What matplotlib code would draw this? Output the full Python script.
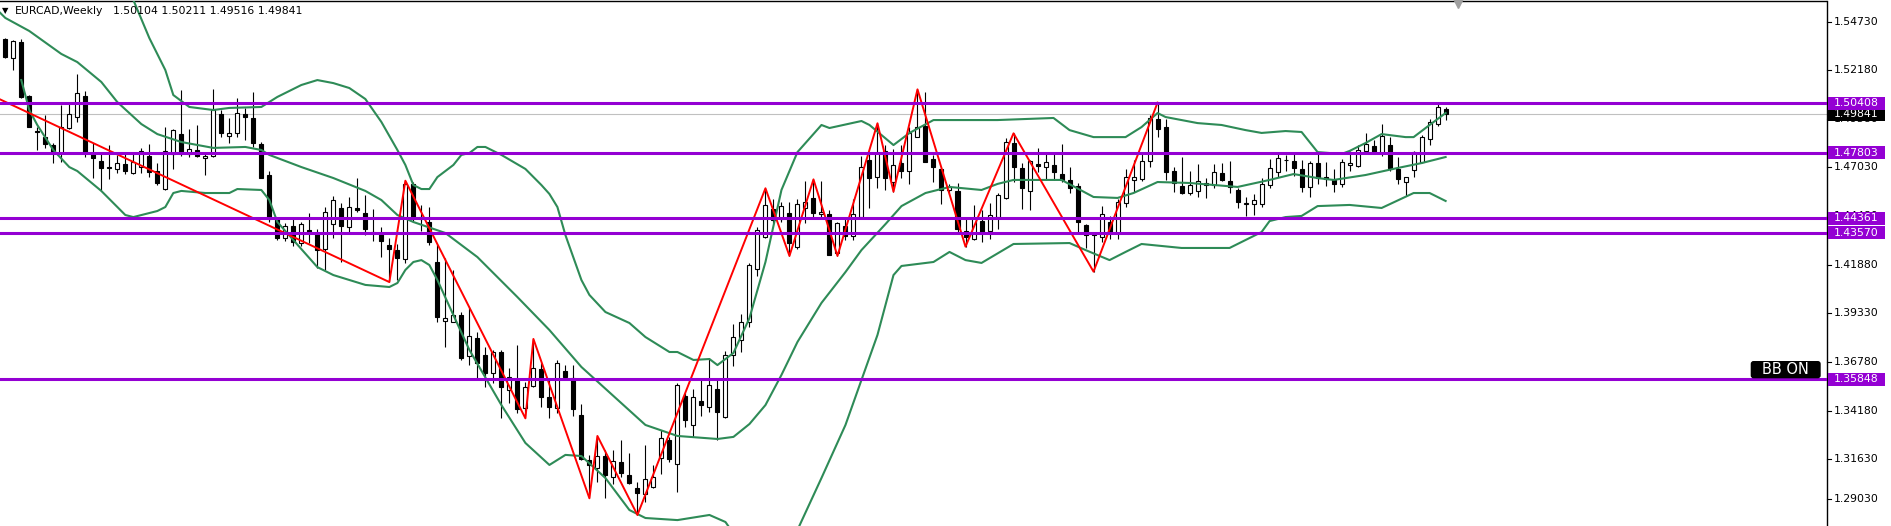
import matplotlib
matplotlib.use("Agg")
import matplotlib.pyplot as plt
import matplotlib.transforms as mtransforms
from matplotlib.patches import Rectangle, FancyBboxPatch
import numpy as np

# weekly EURCAD candles, oldest first
opens = [
    1.5379, 1.5279, 1.5366, 1.5080, 1.4895, 1.4865, 1.4821, 1.4778, 1.4909, 1.4971,
    1.5082, 1.4778, 1.4737, 1.4704, 1.4695, 1.4720, 1.4672, 1.4707, 1.4763, 1.4684,
    1.4588, 1.4772, 1.4879, 1.4774, 1.4795, 1.4754, 1.4763, 1.4985, 1.4870, 1.4883,
    1.4983, 1.4962, 1.4827, 1.4663, 1.4431, 1.4329, 1.4394, 1.4303, 1.4373, 1.4352,
    1.4271, 1.4403, 1.4487, 1.4387, 1.4491, 1.4461, 1.4364, 1.4352, 1.4294, 1.4267,
    1.4218, 1.4616, 1.4440, 1.4417, 1.4202, 1.3894, 1.3889, 1.3924, 1.3708, 1.3801,
    1.3713, 1.3617, 1.3731, 1.3529, 1.3585, 1.3432, 1.3550, 1.3639, 1.3490, 1.3432,
    1.3629, 1.3590, 1.3397, 1.3159, 1.3115, 1.3180, 1.3071, 1.3147, 1.3080, 1.3010,
    1.2980, 1.3015, 1.3168, 1.3265, 1.3138, 1.3497, 1.3344, 1.3472, 1.3440, 1.3532,
    1.3388, 1.3713, 1.3792, 1.3886, 1.4165, 1.4337, 1.4482, 1.4429, 1.4461, 1.4285,
    1.4487, 1.4540, 1.4456, 1.4456, 1.4250, 1.4394, 1.4343, 1.4443, 1.4742, 1.4654,
    1.4791, 1.4624, 1.4725, 1.4683, 1.4865, 1.4922, 1.4747, 1.4693, 1.4584, 1.4579,
    1.4367, 1.4324, 1.4420, 1.4369, 1.4440, 1.4540, 1.4830, 1.4698, 1.4579, 1.4720,
    1.4704, 1.4714, 1.4667, 1.4637, 1.4605, 1.4399, 1.4350, 1.4334, 1.4417, 1.4355,
    1.4514, 1.4637, 1.4640, 1.4737, 1.4957, 1.4915, 1.4684, 1.4605, 1.4567, 1.4580,
    1.4619, 1.4610, 1.4672, 1.4631, 1.4584, 1.4512, 1.4510, 1.4508, 1.4610, 1.4680,
    1.4741, 1.4737, 1.4693, 1.4598, 1.4725, 1.4651, 1.4637, 1.4616, 1.4714, 1.4712,
    1.4791, 1.4818, 1.4781, 1.4821, 1.4693, 1.4624, 1.4689, 1.4733, 1.4851, 1.4931,
    1.50104,
]
highs = [
    1.5384, 1.5375, 1.5379, 1.5085, 1.4918, 1.4980, 1.4832, 1.5032, 1.5045, 1.5196,
    1.5108, 1.4832, 1.4786, 1.4821, 1.4769, 1.4774, 1.4786, 1.4804, 1.4825, 1.4725,
    1.4918, 1.4906, 1.5112, 1.4904, 1.4927, 1.4786, 1.5117, 1.5006, 1.4962, 1.5068,
    1.5015, 1.5099, 1.4839, 1.4684, 1.4443, 1.4411, 1.4443, 1.4415, 1.4464, 1.4378,
    1.4493, 1.4554, 1.4517, 1.4545, 1.4649, 1.4558, 1.4482, 1.4387, 1.4332, 1.4297,
    1.4633, 1.4628, 1.4505, 1.4496, 1.4297, 1.4223, 1.4162, 1.3942, 1.3968, 1.3836,
    1.3757, 1.3740, 1.3740, 1.3643, 1.3766, 1.3572, 1.3798, 1.3669, 1.3581, 1.3687,
    1.3660, 1.3660, 1.3453, 1.3186, 1.3286, 1.3212, 1.3212, 1.3265, 1.3198, 1.3041,
    1.3238, 1.3133, 1.3317, 1.3282, 1.3564, 1.3511, 1.3532, 1.3581, 1.3696, 1.3581,
    1.3736, 1.3877, 1.3930, 1.4200, 1.4390, 1.4593, 1.4535, 1.4519, 1.4519, 1.4536,
    1.4631, 1.4640, 1.4631, 1.4478, 1.4417, 1.4438, 1.4535, 1.4763, 1.4786, 1.4936,
    1.4821, 1.4799, 1.4821, 1.4918, 1.5115, 1.5103, 1.4769, 1.4707, 1.4616, 1.4619,
    1.4429, 1.4505, 1.4478, 1.4517, 1.4570, 1.4857, 1.4883, 1.4725, 1.4742, 1.4804,
    1.4774, 1.4786, 1.4827, 1.4704, 1.4622, 1.4405, 1.4355, 1.4499, 1.4447, 1.4535,
    1.4693, 1.4742, 1.4786, 1.4980, 1.5045, 1.4957, 1.4707, 1.4760, 1.4686, 1.4721,
    1.4646, 1.4721, 1.4728, 1.4737, 1.4593, 1.4545, 1.4563, 1.4646, 1.4746, 1.4786,
    1.4769, 1.4774, 1.4742, 1.4739, 1.4774, 1.4733, 1.4693, 1.4746, 1.4791, 1.4821,
    1.4883, 1.4848, 1.4932, 1.4862, 1.4756, 1.4654, 1.4791, 1.4874, 1.4957, 1.5038,
    1.50211,
]
lows = [
    1.5283, 1.5217, 1.5069, 1.4916, 1.4795, 1.4804, 1.4726, 1.4733, 1.4906, 1.4944,
    1.4758, 1.4646, 1.4580, 1.4640, 1.4672, 1.4667, 1.4668, 1.4675, 1.4654, 1.4610,
    1.4584, 1.4693, 1.4765, 1.4760, 1.4756, 1.4663, 1.4758, 1.4864, 1.4830, 1.4865,
    1.4848, 1.4812, 1.4646, 1.4417, 1.4320, 1.4316, 1.4290, 1.4288, 1.4303, 1.4171,
    1.4162, 1.4332, 1.4206, 1.4350, 1.4466, 1.4346, 1.4315, 1.4232, 1.4098, 1.4109,
    1.4200, 1.4422, 1.4369, 1.4294, 1.3889, 1.3754, 1.3887, 1.3687, 1.3660, 1.3581,
    1.3546, 1.3564, 1.3379, 1.3458, 1.3406, 1.3379, 1.3544, 1.3437, 1.3379, 1.3406,
    1.3581, 1.3393, 1.3159, 1.2957, 1.3045, 1.2957, 1.3031, 1.3071, 1.3034, 1.2869,
    1.2939, 1.3010, 1.3085, 1.3150, 1.2989, 1.3335, 1.3282, 1.3391, 1.3414, 1.3265,
    1.3382, 1.3655, 1.3731, 1.3863, 1.4130, 1.4329, 1.4408, 1.4417, 1.4236, 1.4271,
    1.4408, 1.4443, 1.4429, 1.4239, 1.4236, 1.4320, 1.4320, 1.4438, 1.4487, 1.4596,
    1.4584, 1.4575, 1.4646, 1.4616, 1.4862, 1.4732, 1.4628, 1.4508, 1.4561, 1.4364,
    1.4285, 1.4320, 1.4311, 1.4324, 1.4376, 1.4536, 1.4628, 1.4482, 1.4478, 1.4680,
    1.4637, 1.4637, 1.4628, 1.4567, 1.4359, 1.4276, 1.4153, 1.4311, 1.4324, 1.4324,
    1.4496, 1.4575, 1.4633, 1.4707, 1.4865, 1.4637, 1.4575, 1.4563, 1.4558, 1.4549,
    1.4543, 1.4593, 1.4631, 1.4570, 1.4487, 1.4447, 1.4452, 1.4496, 1.4593, 1.4654,
    1.4686, 1.4658, 1.4575, 1.4545, 1.4616, 1.4605, 1.4575, 1.4601, 1.4686, 1.4704,
    1.4781, 1.4774, 1.4763, 1.4686, 1.4614, 1.4552, 1.4654, 1.4725, 1.4821, 1.4923,
    1.49516,
]
closes = [
    1.5287, 1.5372, 1.5073, 1.4918, 1.4890, 1.4827, 1.4778, 1.4915, 1.4983, 1.5094,
    1.4778, 1.4751, 1.4702, 1.4700, 1.4725, 1.4684, 1.4730, 1.4790, 1.4680, 1.4619,
    1.4790, 1.4900, 1.4786, 1.4800, 1.4765, 1.4765, 1.5006, 1.4883, 1.4883, 1.4989,
    1.4971, 1.4834, 1.4649, 1.4431, 1.4332, 1.4396, 1.4311, 1.4405, 1.4359, 1.4267,
    1.4468, 1.4531, 1.4396, 1.4493, 1.4478, 1.4378, 1.4355, 1.4316, 1.4271, 1.4227,
    1.4614, 1.4443, 1.4431, 1.4311, 1.3915, 1.3907, 1.3924, 1.3699, 1.3815, 1.3669,
    1.3620, 1.3727, 1.3546, 1.3599, 1.3427, 1.3543, 1.3643, 1.3490, 1.3440, 1.3669,
    1.3599, 1.3427, 1.3163, 1.3133, 1.3180, 1.3080, 1.3155, 1.3089, 1.3036, 1.2983,
    1.3057, 1.3071, 1.3274, 1.3163, 1.3555, 1.3370, 1.3490, 1.3449, 1.3555, 1.3414,
    1.3713, 1.3810, 1.3889, 1.4188, 1.4373, 1.4505, 1.4426, 1.4499, 1.4306, 1.4508,
    1.4522, 1.4461, 1.4466, 1.4241, 1.4408, 1.4343, 1.4456, 1.4707, 1.4646, 1.4781,
    1.4649, 1.4716, 1.4686, 1.4883, 1.4918, 1.4733, 1.4707, 1.4584, 1.4601, 1.4376,
    1.4334, 1.4434, 1.4355, 1.4452, 1.4558, 1.4839, 1.4707, 1.4593, 1.4737, 1.4712,
    1.4730, 1.4680, 1.4637, 1.4593, 1.4417, 1.4346, 1.4345, 1.4456, 1.4355, 1.4522,
    1.4654, 1.4654, 1.4738, 1.4965, 1.4904, 1.4680, 1.4622, 1.4570, 1.4609, 1.4630,
    1.4610, 1.4677, 1.4637, 1.4598, 1.4522, 1.4514, 1.4531, 1.4614, 1.4698, 1.4751,
    1.4743, 1.4702, 1.4601, 1.4725, 1.4649, 1.4642, 1.4614, 1.4730, 1.4725, 1.4795,
    1.4825, 1.4781, 1.4869, 1.4702, 1.4640, 1.4651, 1.4786, 1.4865, 1.4944, 1.5020,
    1.49841,
]

# zigzag turning points (bar index, price)
zz_idx = [-1, 48, 50, 65, 66, 73, 74, 79, 95, 98, 101, 104, 109, 111, 114, 120, 126, 136, 144]
zz_price = [1.5069, 1.4098, 1.4633, 1.3379, 1.3798, 1.2957, 1.3286, 1.2869, 1.4593, 1.4236,
            1.4640, 1.4236, 1.4936, 1.4575, 1.5115, 1.4285, 1.4883, 1.4153, 1.5045]

# bollinger bands (bar index, price)
bb_upper_idx = [14, 16, 18, 20, 21, 23, 26, 28, 32, 34, 37, 39, 41, 43, 45, 47, 49, 50, 51, 52,
                53, 54, 56, 57, 58, 59, 60, 61, 62, 65, 67, 68, 69, 70, 72, 73, 75, 78, 80, 83,
                84, 86, 88, 89, 91, 93, 95, 97, 99, 102, 103, 107, 108, 111, 113, 116, 124, 131, 133, 136,
                140, 142, 144, 145, 149, 152, 155, 157, 160, 162, 164, 167, 168, 170, 172, 175, 176, 178, 180]
bb_upper = [1.5718, 1.5587, 1.5386, 1.5217, 1.5085, 1.5022, 1.5006, 1.5017, 1.5022, 1.5075,
            1.5138, 1.5164, 1.5148, 1.5122, 1.5064, 1.4943, 1.4795, 1.4716, 1.4610, 1.4589,
            1.4589, 1.4652, 1.4716, 1.4769, 1.4779, 1.4811, 1.4811, 1.4790, 1.4769, 1.4695,
            1.4610, 1.4563, 1.4494, 1.4346, 1.4109, 1.4030, 1.3940, 1.3882, 1.3808, 1.3729,
            1.3729, 1.3687, 1.3692, 1.3660, 1.3724, 1.3908, 1.4204, 1.4584, 1.4784, 1.4927,
            1.4911, 1.4948, 1.4927, 1.4821, 1.4885, 1.4953, 1.4953, 1.4964, 1.4900, 1.4863,
            1.4863, 1.4916, 1.4990, 1.4969, 1.4937, 1.4927, 1.4900, 1.4885, 1.4895, 1.4890,
            1.4784, 1.4774, 1.4790, 1.4832, 1.4879, 1.4863, 1.4863, 1.4927, 1.4990]
bb_mid_idx = [-1, 0, 3, 7, 9, 12, 14, 17, 19, 22, 26, 30, 32, 33, 37, 41, 45, 47, 49, 51,
              55, 59, 64, 68, 72, 76, 80, 84, 89, 91, 93, 95, 97, 99, 102, 105, 107, 110, 112, 115,
              118, 122, 124, 126, 132, 136, 139, 141, 144, 148, 154, 158, 161, 164, 166, 170, 174, 177, 180]
bb_mid = [1.5534, 1.5492, 1.5423, 1.5302, 1.5259, 1.5154, 1.5048, 1.4932, 1.4879, 1.4837,
          1.4806, 1.4811, 1.4795, 1.4769, 1.4705, 1.4647, 1.4579, 1.4531, 1.4452, 1.4415,
          1.4357, 1.4230, 1.4019, 1.3845, 1.3650, 1.3497, 1.3344, 1.3286, 1.3270, 1.3281,
          1.3349, 1.3449, 1.3608, 1.3782, 1.3988, 1.4151, 1.4267, 1.4404, 1.4499, 1.4568,
          1.4600, 1.4584, 1.4616, 1.4637, 1.4637, 1.4547, 1.4542, 1.4568, 1.4626, 1.4621,
          1.4600, 1.4637, 1.4668, 1.4647, 1.4637, 1.4663, 1.4700, 1.4726, 1.4758]
bb_lower_idx = [2, 3, 4, 6, 8, 9, 12, 15, 16, 19, 20, 21, 22, 25, 28, 29, 32, 33, 34, 39,
                41, 45, 48, 49, 50, 51, 52, 53, 54, 56, 58, 62, 65, 68, 70, 72, 75, 78, 80, 84,
                88, 90, 92, 95, 98, 99, 102, 105, 109, 111, 112, 116, 118, 120, 122, 126, 133, 135, 138, 140,
                142, 147, 153, 157, 158, 160, 162, 164, 168, 172, 176, 178, 180]
bb_lower = [1.5164, 1.5006, 1.4927, 1.4795, 1.4705, 1.4684, 1.4579, 1.4452, 1.4441, 1.4473,
            1.4494, 1.4568, 1.4579, 1.4568, 1.4568, 1.4589, 1.4584, 1.4531, 1.4415, 1.4177,
            1.4135, 1.4083, 1.4072, 1.4093, 1.4162, 1.4204, 1.4214, 1.4188, 1.4109, 1.3924,
            1.3740, 1.3449, 1.3249, 1.3133, 1.3186, 1.3180, 1.3064, 1.2895, 1.2853, 1.2842,
            1.2869, 1.2832, 1.2711, 1.2526, 1.2631, 1.2790, 1.3064, 1.3344, 1.3819, 1.4135,
            1.4183, 1.4204, 1.4257, 1.4214, 1.4199, 1.4299, 1.4304, 1.4267, 1.4214, 1.4257,
            1.4299, 1.4278, 1.4278, 1.4362, 1.4420, 1.4441, 1.4447, 1.4499, 1.4505, 1.4489,
            1.4568, 1.4568, 1.4526]

levels = [1.50408, 1.47803, 1.44361, 1.43570, 1.35848]
last_price = 1.49841
title_ohlc = "1.50104 1.50211 1.49516 1.49841"
tick_vals = [1.54730, 1.52180, 1.49580, 1.47030, 1.44480, 1.41880,
             1.39330, 1.36780, 1.34180, 1.31630, 1.29030]

# figure: pixel sized, plot area runs up to the price scale
W, H = 1891, 526
plot_w = 1826.5
fig = plt.figure(figsize=(W / 100, H / 100), dpi=100)
ax = fig.add_axes([0, 0, plot_w / W, 525.5 / H])
y0, y1 = 1.28108, 1.55839
ax.set_xlim(-0.66, 227.6)
ax.set_ylim(y0, y1)
ax.spines["left"].set_visible(False)
ax.spines["bottom"].set_visible(False)
ax.spines["top"].set_linewidth(1.0)
ax.spines["right"].set_linewidth(1.0)
ax.set_xticks([])
ax.set_yticks([])

purple = "#9400d3"
green = "#2e8b57"

idx = np.arange(len(opens))
o = np.array(opens)
c = np.array(closes)
bull = c >= o

ax.axhline(last_price, color="#c0c0c0", lw=0.8, zorder=1)
ax.vlines(idx, lows, highs, color="black", lw=0.8, zorder=2)
ax.bar(idx, np.abs(c - o), bottom=np.minimum(o, c), width=0.5,
       color=np.where(bull, "white", "black"), edgecolor="black", linewidth=0.8, zorder=3)

ax.plot(bb_upper_idx, bb_upper, color=green, lw=1.5, zorder=4)
ax.plot(bb_mid_idx, bb_mid, color=green, lw=1.5, zorder=4)
ax.plot(bb_lower_idx, bb_lower, color=green, lw=1.5, zorder=4)
ax.plot(zz_idx, zz_price, color="red", lw=1.4, zorder=5)
for lv in levels:
    ax.axhline(lv, color=purple, lw=2.2, zorder=6)

# chart shift marker
ax.plot([len(opens) + 0.6], [1 - 2 / 525.5], marker="v", ms=7, color="#a0a0a0",
        transform=ax.get_xaxis_transform(), clip_on=False, zorder=7)

# price scale
trans = mtransforms.blended_transform_factory(fig.transFigure, ax.transData)
xs = plot_w / W
for v in tick_vals:
    t = trans
    if v == min(tick_vals):
        t = mtransforms.offset_copy(trans, fig=fig, y=10, units="dots")
    ax.plot([xs, xs + 4 / W], [v, v], transform=t, color="black", lw=0.8, clip_on=False)
    ax.text(1834 / W, v, f"{v:.5f}", transform=t, fontsize=7.8, ha="left", va="center",
            clip_on=False, zorder=10)

half = 6.5 * (y1 - y0) / 525.5


def price_box(v, fc, z):
    ax.add_patch(Rectangle((xs + 1 / W, v - half), 57 / W, 2 * half, transform=trans,
                           fc=fc, ec="none", clip_on=False, zorder=z))
    ax.text(1856 / W, v, f"{v:.5f}", transform=trans, color="white", fontsize=7.8,
            ha="center", va="center", clip_on=False, zorder=z + 0.5)


price_box(last_price, "black", 11)
for lv in levels:
    price_box(lv, purple, 12)

# title
fig.text(2 / W, 1 - 11 / H, "\u25bc", fontsize=6, ha="left", va="center")
fig.text(15 / W, 1 - 11 / H, "EURCAD,Weekly", fontsize=7.8, ha="left", va="center")
fig.text(113 / W, 1 - 11 / H, title_ohlc, fontsize=7.8, ha="left", va="center")

# BB ON button
fig.patches.append(FancyBboxPatch((1750.7 / W, 1 - 378.3 / H), 70 / W, 17.3 / H,
                                  boxstyle="round,pad=0,rounding_size=0.0015",
                                  mutation_aspect=W / H, transform=fig.transFigure,
                                  fc="black", ec="none"))
fig.text(1785.7 / W, 1 - 369.7 / H, "BB ON", color="white", fontsize=10.5,
         ha="center", va="center")

fig.savefig("out.png", dpi=100)
